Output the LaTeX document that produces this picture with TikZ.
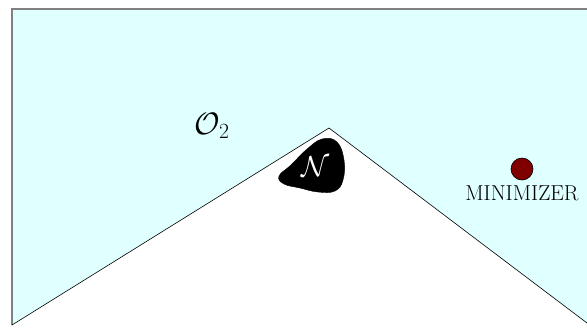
\RequirePackage{fix-cm}
\documentclass[tikz,border=0pt]{standalone}
\usepackage{amsmath}
\usetikzlibrary{positioning}

\definecolor{regioncyan}{HTML}{E0FFFF}
\definecolor{mindot}{HTML}{800000}

\begin{document}
\begin{tikzpicture}[x=1pt, y=-1pt,
	region/.style={fill=regioncyan, draw=none},
	rim/.style={draw=gray, line width=1.4pt},
	edge/.style={draw=black, line width=0.6pt},
	blob/.style={fill=black, draw=black},
	dot/.style={circle, fill=mindot, draw=black, line width=0.6pt, minimum size=22pt, inner sep=0pt}]
	\useasboundingbox (0,0) rectangle (587,330);
	% ---- open set O_2 ----
	\coordinate (tl) at (12,9);
	\coordinate (tr) at (587,9);
	\coordinate (br) at (587,323);
	\coordinate (apex) at (329,128);
	\coordinate (bl) at (12,325);
	\fill[region] (tl) -- (tr) -- (br) -- (apex) -- (bl) -- cycle;
	\draw[rim] (bl) -- (tl) -- (tr);
	\draw[edge] (bl) -- (apex) -- (br);
	\node[font=\fontsize{31}{34}\selectfont] (otwo) at (212,126) {$\mathcal{O}_2$};
	% ---- neighbourhood N ----
	\fill[blob] plot[smooth cycle, tension=0.7] coordinates {(279,176) (291,165) (306,150) (322,139) (337,142) (344,160) (343,180) (335,191) (318,192) (300,188) (284,184)};
	\node[text=white, font=\fontsize{29}{32}\selectfont] (nbhd) at (316,167) {$\mathcal{N}$};
	% ---- minimizer ----
	\node[dot] (minpt) at (522,169) {};
	\node[font=\fontsize{21.6}{24}\selectfont, below=2pt of minpt] (minlabel) {MINIMIZER};
\end{tikzpicture}
\end{document}
